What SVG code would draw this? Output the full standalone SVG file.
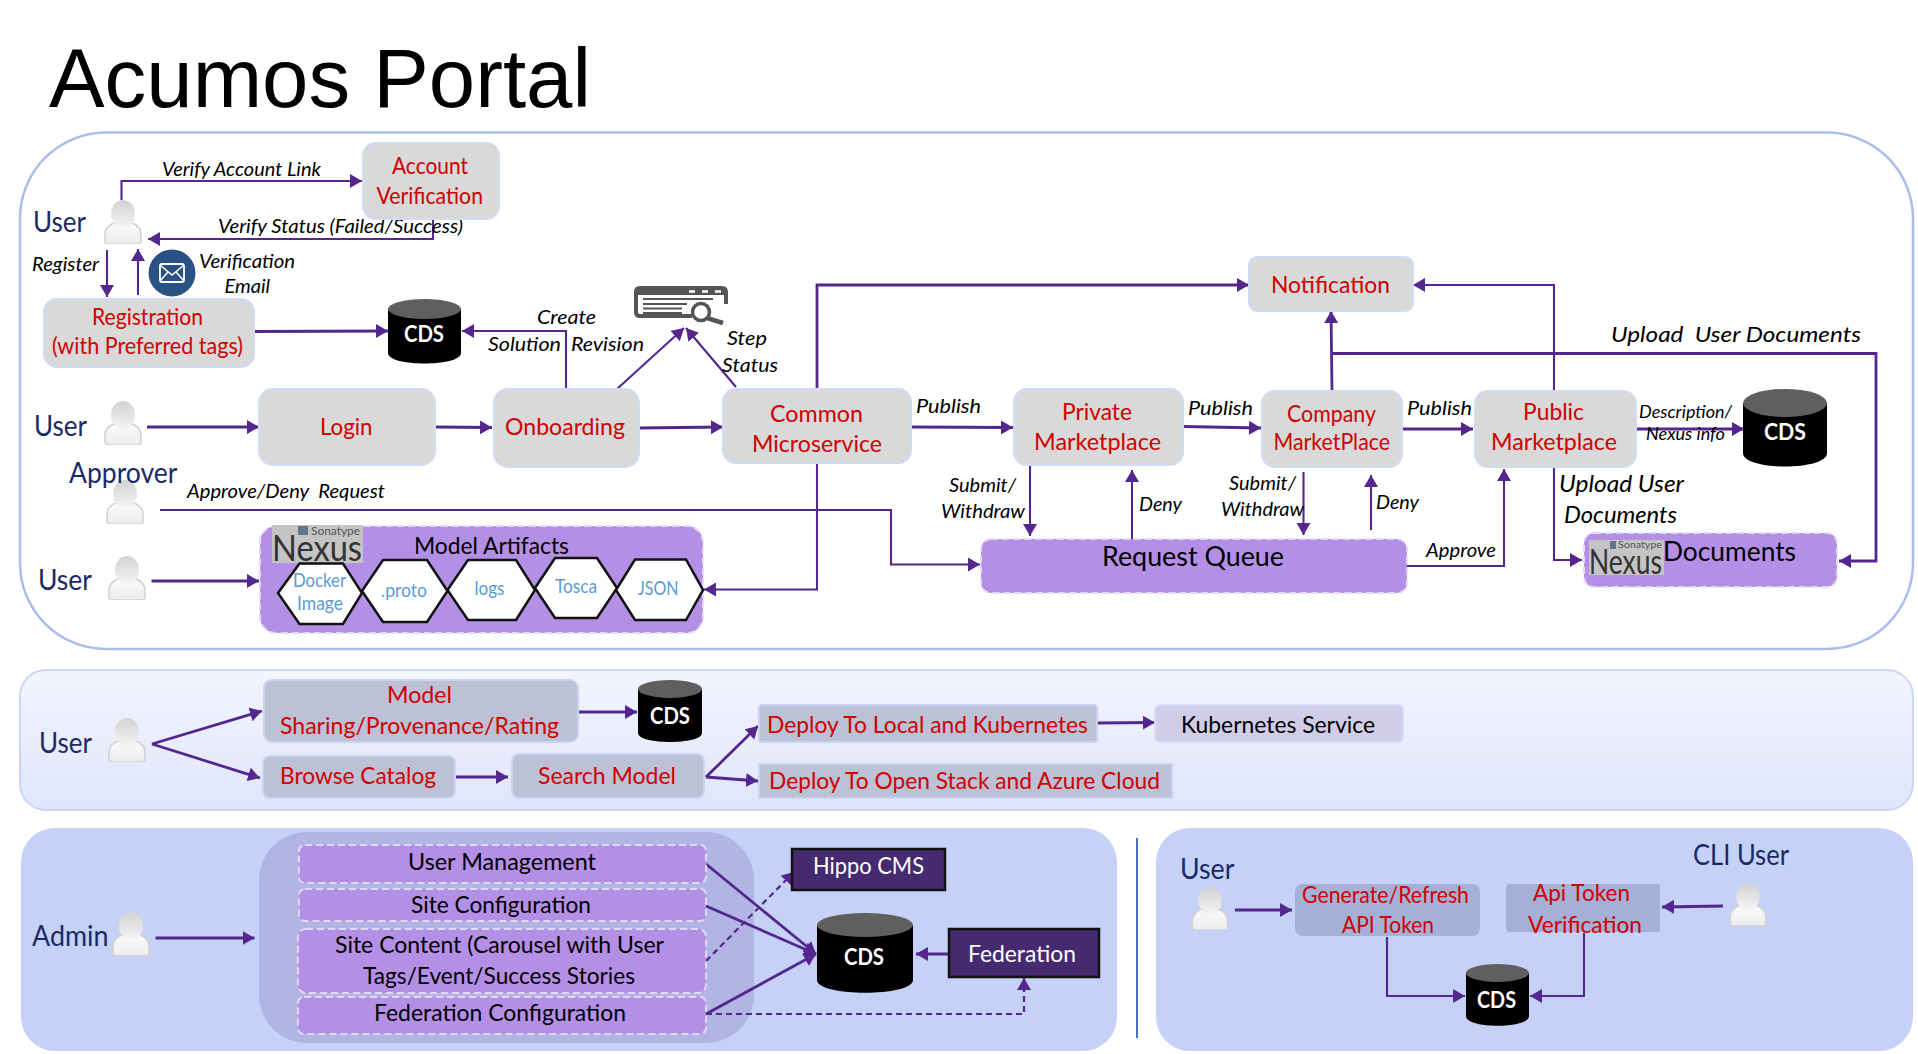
<svg xmlns="http://www.w3.org/2000/svg" width="1918" height="1054" viewBox="0 0 1918 1054">
<style>
text{font-family:Lato,"Liberation Sans",sans-serif;font-size:23px}
.r{fill:#d00000}.k{fill:#000}.i{fill:#000;font-style:italic;font-size:20px}
.s{font-size:18px}.u{fill:#1b2a66;font-size:28px}.w{fill:#fff;font-weight:700}.b{fill:#5b9bd5;font-size:20px}
.n{fill:#d9d9d9;stroke:#d3daf5;stroke-width:2}
.g{fill:#bcc1d6;stroke:#ccd3f0;stroke-width:2}
.p{fill:#b48fe6;stroke:#e3d8f8;stroke-width:2;stroke-dasharray:7 4}
.d{fill:#452a70;stroke:#111;stroke-width:2.5}
.h{fill:#fff;stroke:#111;stroke-width:2.5}
.c{fill:none;stroke:#54278f;stroke-width:2.8}
.t{stroke-width:2.1}.da{stroke-dasharray:6 4;stroke-width:2.2}
.nx{fill:#c4c4c4}.db{fill:#000}.dt{fill:#5f5f5f}
</style>
<defs>
<marker id="a" markerUnits="userSpaceOnUse" markerWidth="14" markerHeight="16" refX="12" refY="7" orient="auto"><path d="M0 0L12 7L0 14Z" fill="#54278f"/></marker>
<linearGradient id="pg" x1="0" y1="0" x2="0" y2="1"><stop offset="0" stop-color="#f3f5fe"/><stop offset="1" stop-color="#dfe5fb"/></linearGradient>
<linearGradient id="ug" x1="0" y1="0" x2="0" y2="1"><stop offset="0" stop-color="#d2d2d2"/><stop offset="1" stop-color="#f4f4f4"/></linearGradient>
<linearGradient id="ub" x1="0" y1="0" x2="0" y2="1"><stop offset="0" stop-color="#fbfbfb"/><stop offset="1" stop-color="#ececec"/></linearGradient>
<symbol id="user" viewBox="0 0 38 44"><path d="M12 22C5 25 1 28 1 34V41Q1 44 5 44H33Q37 44 37 41V34C37 28 33 25 26 22Z" fill="url(#ub)" stroke="#d2d2d2" stroke-width="1.500"/><ellipse cx="19" cy="14" rx="12" ry="14" fill="url(#ug)"/></symbol>
</defs>
<rect width="1918" height="1054" fill="#fff"/>
<text id="title" x="49" y="106.500" style="font-family:'Liberation Sans',Arial,sans-serif;font-size:84px" fill="#000" textLength="542" lengthAdjust="spacingAndGlyphs">Acumos Portal</text>

<g id="panels">
<rect x="20" y="132.500" width="1893" height="516.500" rx="86" ry="86" fill="#fff" stroke="#a9bdea" stroke-width="2.500"/>
<rect x="20" y="670" width="1893" height="140" rx="26" fill="url(#pg)" stroke="#ccd5f4" stroke-width="2"/>
<rect x="21" y="828" width="1096" height="223" rx="34" fill="#c5d1f7"/>
<rect x="1156" y="828" width="757" height="223" rx="34" fill="#c5d1f7"/>
<path d="M1137 838V1038" stroke="#4a6fc0" stroke-width="2" fill="none"/>
<rect x="259" y="832" width="495" height="211" rx="48" fill="#b1b5e4"/>
</g>

<g id="diagram" transform="translate(0,1)">
<g id="connectors">
<path class="c t" d="M121.500 199V180H362" marker-end="url(#a)"/>
<path class="c t" d="M433 218V238H148" marker-end="url(#a)"/>
<path class="c t" d="M107 249V296" marker-end="url(#a)"/>
<path class="c t" d="M138 294V248" marker-end="url(#a)"/>
<path class="c" d="M254 330.500L388 330" marker-end="url(#a)"/>
<path class="c t" d="M566 388V330H462" marker-end="url(#a)"/>
<path class="c t" d="M617 388L684 327" marker-end="url(#a)"/>
<path class="c t" d="M736 386L686 327" marker-end="url(#a)"/>
<path class="c" d="M147 426H259" marker-end="url(#a)"/>
<path class="c" d="M435 426L492 426.500" marker-end="url(#a)"/>
<path class="c" d="M639 427L723 426" marker-end="url(#a)"/>
<path class="c t" d="M160 509H891V563.500H980" marker-end="url(#a)"/>
<path class="c" d="M151.500 580H259" marker-end="url(#a)"/>
<path class="c t" d="M817 462V588.500H704" marker-end="url(#a)"/>
<path class="c" d="M817 388V284H1249" marker-end="url(#a)"/>
<path class="c" d="M912 426L1013 426.500" marker-end="url(#a)"/>
<path class="c" d="M1183.500 425.500L1261 427" marker-end="url(#a)"/>
<path class="c" d="M1402 428H1473" marker-end="url(#a)"/>
<path class="c" d="M1636 428H1744" marker-end="url(#a)"/>
<path class="c t" d="M1030 465V535" marker-end="url(#a)"/>
<path class="c t" d="M1132 538V469" marker-end="url(#a)"/>
<path class="c t" d="M1303.500 471V534" marker-end="url(#a)"/>
<path class="c t" d="M1371 529V474" marker-end="url(#a)"/>
<path class="c t" d="M1407 565H1504V468" marker-end="url(#a)"/>
<path class="c" d="M1332 390L1331 310" marker-end="url(#a)"/>
<path class="c" d="M1332 352.500H1876V560H1839" marker-end="url(#a)"/>
<path class="c t" d="M1554 390V284H1413" marker-end="url(#a)"/>
<path class="c t" d="M1554 466V559H1582" marker-end="url(#a)"/>
<path class="c" d="M152 743L262 710" marker-end="url(#a)"/>
<path class="c" d="M152 743L260 777" marker-end="url(#a)"/>
<path class="c" d="M578 711H637" marker-end="url(#a)"/>
<path class="c" d="M455 776H508" marker-end="url(#a)"/>
<path class="c" d="M706 776L758 725" marker-end="url(#a)"/>
<path class="c" d="M706 776L758 780" marker-end="url(#a)"/>
<path class="c" d="M1098 722L1155 721.500" marker-end="url(#a)"/>
<path class="c" d="M155.500 937H254.500" marker-end="url(#a)"/>
<path class="c" d="M706 863L816 953" marker-end="url(#a)"/>
<path class="c" d="M706 905L816 953" marker-end="url(#a)"/>
<path class="c" d="M706 1013L816 953" marker-end="url(#a)"/>
<path class="c da" d="M706 960L794 871" marker-end="url(#a)"/>
<path class="c da" d="M706 1013H1024V977" marker-end="url(#a)"/>
<path class="c" d="M949 953H916" marker-end="url(#a)"/>
<path class="c" d="M1235 909H1292" marker-end="url(#a)"/>
<path class="c" d="M1723 905L1662 906" marker-end="url(#a)"/>
<path class="c t" d="M1387 936V995H1465" marker-end="url(#a)"/>
<path class="c t" d="M1584 932V995H1530" marker-end="url(#a)"/>
</g>

<g id="edge-labels">
<text class="i" x="162" y="175" textLength="159" lengthAdjust="spacingAndGlyphs">Verify Account Link</text>
<text class="i" x="218" y="232" textLength="245" lengthAdjust="spacingAndGlyphs">Verify Status (Failed/Success)</text>
<text class="i" x="32" y="270" textLength="67" lengthAdjust="spacingAndGlyphs">Register</text>
<text class="i" x="199" y="267" textLength="96" lengthAdjust="spacingAndGlyphs">Verification</text>
<text class="i" x="224.500" y="292" textLength="45.500" lengthAdjust="spacingAndGlyphs">Email</text>
<text class="i" x="537" y="323" textLength="59" lengthAdjust="spacingAndGlyphs">Create</text>
<text class="i" x="488" y="350" textLength="156" lengthAdjust="spacingAndGlyphs" xml:space="preserve">Solution  Revision</text>
<text class="i" x="727" y="344" textLength="40" lengthAdjust="spacingAndGlyphs">Step</text>
<text class="i" x="722" y="371" textLength="56" lengthAdjust="spacingAndGlyphs">Status</text>
<text class="i" x="187" y="497" textLength="198" lengthAdjust="spacingAndGlyphs" xml:space="preserve">Approve/Deny  Request</text>
<text class="i" x="916" y="412" textLength="65" lengthAdjust="spacingAndGlyphs">Publish</text>
<text class="i" x="1188" y="414" textLength="65" lengthAdjust="spacingAndGlyphs">Publish</text>
<text class="i" x="1407" y="414" textLength="65" lengthAdjust="spacingAndGlyphs">Publish</text>
<text class="i" x="1611" y="341" textLength="250" style="font-size:22px" lengthAdjust="spacingAndGlyphs" xml:space="preserve">Upload  User Documents</text>
<text class="i s" x="1639" y="417" textLength="93" lengthAdjust="spacingAndGlyphs">Description/</text>
<text class="i s" x="1646" y="439" textLength="79" lengthAdjust="spacingAndGlyphs">Nexus info</text>
<text class="i" x="949" y="491" textLength="67" lengthAdjust="spacingAndGlyphs">Submit/</text>
<text class="i" x="941" y="517" textLength="84" lengthAdjust="spacingAndGlyphs">Withdraw</text>
<text class="i" x="1139" y="510" textLength="43" lengthAdjust="spacingAndGlyphs">Deny</text>
<text class="i" x="1229" y="489" textLength="67" lengthAdjust="spacingAndGlyphs">Submit/</text>
<text class="i" x="1221" y="515" textLength="83" lengthAdjust="spacingAndGlyphs">Withdraw</text>
<text class="i" x="1376" y="508" textLength="43" lengthAdjust="spacingAndGlyphs">Deny</text>
<text class="i" x="1559" y="491" style="font-size:23px" textLength="125" lengthAdjust="spacingAndGlyphs">Upload User</text>
<text class="i" x="1564" y="522" style="font-size:23px" textLength="113" lengthAdjust="spacingAndGlyphs">Documents</text>
<text class="i" x="1426" y="556" textLength="70" lengthAdjust="spacingAndGlyphs">Approve</text>
</g>

<g id="actor-user-1"><use href="#user" x="104" y="199" width="38" height="44"/><text class="u" x="33" y="231" textLength="53" lengthAdjust="spacingAndGlyphs">User</text></g>
<g id="actor-user-2"><use href="#user" x="104" y="400" width="38" height="44"/><text class="u" x="34" y="435" textLength="53" lengthAdjust="spacingAndGlyphs">User</text></g>
<g id="actor-approver"><use href="#user" x="106" y="479" width="38" height="44"/><text class="u" x="69" y="481.500" textLength="108.500" lengthAdjust="spacingAndGlyphs">Approver</text></g>
<g id="actor-user-3"><use href="#user" x="108" y="555" width="38" height="44"/><text class="u" x="38" y="589" textLength="54" lengthAdjust="spacingAndGlyphs">User</text></g>
<g id="actor-user-4"><use href="#user" x="108" y="717" width="38" height="44"/><text class="u" x="39" y="752" textLength="53" lengthAdjust="spacingAndGlyphs">User</text></g>
<g id="actor-admin"><use href="#user" x="112" y="911" width="38" height="44"/><text class="u" x="32" y="945" textLength="76.500" lengthAdjust="spacingAndGlyphs">Admin</text></g>
<g id="actor-user-5"><use href="#user" x="1191" y="886" width="38" height="43"/><text class="u" x="1180" y="878" textLength="54.500" lengthAdjust="spacingAndGlyphs">User</text></g>
<g id="actor-cli-user"><use href="#user" x="1729" y="882" width="38" height="43"/><text class="u" x="1693" y="864" textLength="96" lengthAdjust="spacingAndGlyphs">CLI User</text></g>

<g id="mail-icon"><circle cx="172" cy="272" r="23.500" fill="#2a5184"/><rect x="160" y="263" width="24" height="18" rx="2" fill="none" stroke="#fff" stroke-width="1.800"/><path d="M160 264L172 274L184 264M160 280L168 271M184 280L176 271" fill="none" stroke="#fff" stroke-width="1.500"/></g>

<g id="search-icon">
<path d="M692 315H640Q636 315 636 311V291Q636 287 640 287H722Q726 287 726 291V303" fill="none" stroke="#555" stroke-width="4"/>
<rect x="636" y="287" width="90" height="7" fill="#555"/>
<path d="M643 298H713M643 303H687M643 307.500H682M643 312H682" stroke="#555" stroke-width="2.200" fill="none"/>
<circle cx="701" cy="311" r="8.500" fill="#fff" stroke="#555" stroke-width="3.500"/>
<path d="M707 317L723 322" stroke="#555" stroke-width="4.500" fill="none"/>
<path d="M689 290.500H695M702 290.500H708M715 290.500H721" stroke="#fff" stroke-width="2.500" fill="none"/>
</g>

<g id="account-verification"><rect class="n" x="363" y="142" width="136" height="76" rx="13"/><text class="r" x="392" y="173" textLength="76" lengthAdjust="spacingAndGlyphs">Account</text><text class="r" x="376.500" y="203" textLength="106.500" lengthAdjust="spacingAndGlyphs">Verification</text></g>
<g id="registration"><rect class="n" x="44" y="298" width="210" height="68" rx="13"/><text class="r" x="92" y="324" textLength="111" lengthAdjust="spacingAndGlyphs">Registration</text><text class="r" x="52" y="353" textLength="191" lengthAdjust="spacingAndGlyphs">(with Preferred tags)</text></g>
<g id="login"><rect class="n" x="259" y="388" width="176" height="76" rx="14"/><text class="r" x="320" y="433.500" textLength="52.500" lengthAdjust="spacingAndGlyphs">Login</text></g>
<g id="onboarding"><rect class="n" x="494" y="388" width="145" height="78" rx="14"/><text class="r" x="505" y="433.500" textLength="120" lengthAdjust="spacingAndGlyphs">Onboarding</text></g>
<g id="common-microservice"><rect class="n" x="723" y="388" width="188" height="74" rx="13"/><text class="r" x="770" y="421" textLength="93" lengthAdjust="spacingAndGlyphs">Common</text><text class="r" x="752" y="451" textLength="130" lengthAdjust="spacingAndGlyphs">Microservice</text></g>
<g id="private-marketplace"><rect class="n" x="1014" y="388" width="169" height="76" rx="13"/><text class="r" x="1062" y="419" textLength="70" lengthAdjust="spacingAndGlyphs">Private</text><text class="r" x="1034" y="449" textLength="127" lengthAdjust="spacingAndGlyphs">Marketplace</text></g>
<g id="company-marketplace"><rect class="n" x="1262" y="390" width="140" height="76" rx="13"/><text class="r" x="1287" y="421" textLength="89" lengthAdjust="spacingAndGlyphs">Company</text><text class="r" x="1273.500" y="449" textLength="116.500" lengthAdjust="spacingAndGlyphs">MarketPlace</text></g>
<g id="public-marketplace"><rect class="n" x="1475" y="390" width="161" height="76" rx="13"/><text class="r" x="1523" y="419" textLength="61" lengthAdjust="spacingAndGlyphs">Public</text><text class="r" x="1491" y="449" textLength="126" lengthAdjust="spacingAndGlyphs">Marketplace</text></g>
<g id="notification"><rect class="n" x="1249" y="256" width="164" height="54" rx="8"/><text class="r" x="1271" y="291.500" textLength="119" lengthAdjust="spacingAndGlyphs">Notification</text></g>

<g id="request-queue"><rect class="p" x="981" y="538" width="426" height="54" rx="10"/><text class="k" x="1102" y="565" style="font-size:26px" textLength="182" lengthAdjust="spacingAndGlyphs">Request Queue</text></g>
<g id="documents"><rect class="p" x="1584" y="532" width="253" height="54" rx="10"/><rect class="nx" x="1589" y="539" width="75" height="35"/><rect x="1610" y="540" width="6" height="8" fill="#5f7590"/><text x="1618" y="547" style="font-size:9px" fill="#555" textLength="44" lengthAdjust="spacingAndGlyphs">Sonatype</text><text x="1589" y="573" style="font-size:34px" fill="#333" textLength="73" lengthAdjust="spacingAndGlyphs">Nexus</text><text class="k" x="1663" y="560" style="font-size:26px" textLength="133" lengthAdjust="spacingAndGlyphs">Documents</text></g>

<g id="model-artifacts"><rect class="p" x="260" y="525" width="443" height="107" rx="16"/>
<rect class="nx" x="272" y="524" width="91" height="38"/><rect x="298" y="525" width="10" height="9" fill="#5f7590"/><text x="311" y="534" style="font-size:12px" fill="#555" textLength="49" lengthAdjust="spacingAndGlyphs">Sonatype</text><text x="272" y="560" style="font-size:36px" fill="#333" textLength="90" lengthAdjust="spacingAndGlyphs">Nexus</text>
<text class="k" x="414" y="553" textLength="155" lengthAdjust="spacingAndGlyphs">Model Artifacts</text>
<path class="h" d="M278 592L299.500 562.500H343L362 592L343 623H299.500Z"/><path class="h" d="M362 590L383 559H427L447.500 590L427 621H383Z"/><path class="h" d="M447.500 589L468 559H516L535 589L516 619H468Z"/><path class="h" d="M535 587L555 557H597L617 587L597 617H555Z"/><path class="h" d="M616 589L635 558.500H686L703 589L686 619H635Z"/>
<text class="b" x="293" y="586" textLength="53" lengthAdjust="spacingAndGlyphs">Docker</text><text class="b" x="297" y="609" textLength="46" lengthAdjust="spacingAndGlyphs">Image</text><text class="b" x="381" y="596" textLength="46" lengthAdjust="spacingAndGlyphs">.proto</text><text class="b" x="474.500" y="594" textLength="30" lengthAdjust="spacingAndGlyphs">logs</text><text class="b" x="555" y="592" textLength="42" lengthAdjust="spacingAndGlyphs">Tosca</text><text class="b" x="638" y="593.500" textLength="40.500" lengthAdjust="spacingAndGlyphs">JSON</text></g>

<g id="cds-1"><path class="db" d="M388 308V352C388 366 461 366 461 352V308Z"/><ellipse class="dt" cx="424.500" cy="308" rx="36.500" ry="10"/><text class="w" x="404" y="341" textLength="40" lengthAdjust="spacingAndGlyphs">CDS</text></g>
<g id="cds-2"><path class="db" d="M1743 402V452C1743 470 1827 470 1827 452V402Z"/><ellipse class="dt" cx="1785" cy="402" rx="42" ry="14"/><text class="w" x="1764" y="439" textLength="42" lengthAdjust="spacingAndGlyphs">CDS</text></g>
<g id="cds-3"><path class="db" d="M638 688V732C638 744 702 744 702 732V688Z"/><ellipse class="dt" cx="670" cy="688" rx="32" ry="9"/><text class="w" x="650" y="723" textLength="40" lengthAdjust="spacingAndGlyphs">CDS</text></g>
<g id="cds-4"><path class="db" d="M817 924V979C817 996 913 996 913 979V924Z"/><ellipse class="dt" cx="865" cy="924" rx="48" ry="12"/><text class="w" x="844" y="964" textLength="40" lengthAdjust="spacingAndGlyphs">CDS</text></g>
<g id="cds-5"><path class="db" d="M1466 972V1015C1466 1028 1529 1028 1529 1015V972Z"/><ellipse class="dt" cx="1497.500" cy="972" rx="31.500" ry="9"/><text class="w" x="1477" y="1007" textLength="39" lengthAdjust="spacingAndGlyphs">CDS</text></g>

<g id="model-sharing"><rect class="g" x="264" y="679" width="314" height="62" rx="8"/><text class="r" x="387" y="702" textLength="65" lengthAdjust="spacingAndGlyphs">Model</text><text class="r" x="280" y="733" textLength="279" lengthAdjust="spacingAndGlyphs">Sharing/Provenance/Rating</text></g>
<g id="browse-catalog"><rect class="g" x="263" y="755" width="192" height="42" rx="7"/><text class="r" x="280" y="783" textLength="156" lengthAdjust="spacingAndGlyphs">Browse Catalog</text></g>
<g id="search-model"><rect class="g" x="512" y="753" width="192" height="44" rx="7"/><text class="r" x="538" y="783" textLength="138" lengthAdjust="spacingAndGlyphs">Search Model</text></g>
<g id="deploy-local"><rect class="g" x="759" y="704" width="338" height="37" rx="3"/><text class="r" x="767" y="732" textLength="321" lengthAdjust="spacingAndGlyphs">Deploy To Local and Kubernetes</text></g>
<g id="deploy-cloud"><rect class="g" x="759" y="763" width="413" height="34"/><text class="r" x="769" y="788" textLength="391" lengthAdjust="spacingAndGlyphs">Deploy To Open Stack and Azure Cloud</text></g>
<g id="kubernetes-service"><rect x="1155" y="704" width="248" height="37" rx="5" fill="#d0cde8" stroke="#d8dcf4" stroke-width="2"/><text class="k" x="1181" y="732" textLength="194" lengthAdjust="spacingAndGlyphs">Kubernetes Service</text></g>

<g id="user-management"><rect class="p" x="299" y="844" width="407" height="38" rx="6"/><text class="k" x="408" y="869" textLength="188" lengthAdjust="spacingAndGlyphs">User Management</text></g>
<g id="site-configuration"><rect class="p" x="299" y="888" width="407" height="32" rx="6"/><text class="k" x="411" y="912" textLength="180" lengthAdjust="spacingAndGlyphs">Site Configuration</text></g>
<g id="site-content"><rect class="p" x="298" y="928" width="408" height="64" rx="8"/><text class="k" x="335" y="952" textLength="329" lengthAdjust="spacingAndGlyphs">Site Content (Carousel with User</text><text class="k" x="363" y="983" textLength="272" lengthAdjust="spacingAndGlyphs">Tags/Event/Success Stories</text></g>
<g id="federation-configuration"><rect class="p" x="298" y="996" width="408" height="37" rx="6"/><text class="k" x="374" y="1020" textLength="252" lengthAdjust="spacingAndGlyphs">Federation Configuration</text></g>
<g id="hippo-cms"><rect class="d" x="792" y="848" width="153" height="41"/><text x="813" y="873" fill="#fff" textLength="111" lengthAdjust="spacingAndGlyphs">Hippo CMS</text></g>
<g id="federation"><rect class="d" x="949" y="928" width="150" height="48"/><text x="968" y="961" fill="#fff" textLength="108" lengthAdjust="spacingAndGlyphs">Federation</text></g>

<g id="generate-token"><rect x="1295" y="883" width="185" height="52" rx="8" fill="#a5b0d6"/><text class="r" x="1302" y="902" textLength="167" lengthAdjust="spacingAndGlyphs">Generate/Refresh</text><text class="r" x="1342" y="932" textLength="92" lengthAdjust="spacingAndGlyphs">API Token</text></g>
<g id="api-verification"><rect x="1506" y="883" width="154" height="48" rx="3" fill="#a5b0d6"/><text class="r" x="1533" y="900" textLength="97" lengthAdjust="spacingAndGlyphs">Api Token</text><text class="r" x="1528" y="932" textLength="114" lengthAdjust="spacingAndGlyphs">Verification</text></g>
</g>
</svg>
